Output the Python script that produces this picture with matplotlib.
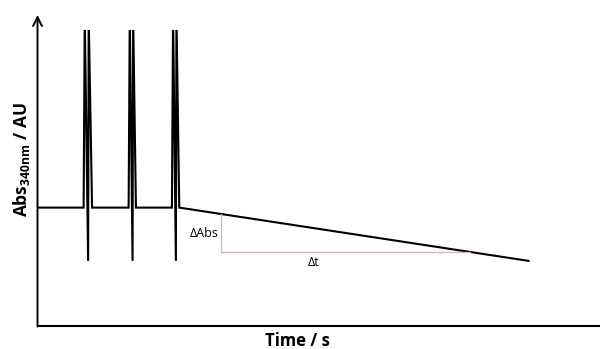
import matplotlib
matplotlib.use("Agg")
import matplotlib.pyplot as plt
import numpy as np

plt.rcParams['font.family'] = ['Open Sans', 'DejaVu Sans']
plt.rcParams['mathtext.fontset'] = 'custom'
plt.rcParams['mathtext.bf'] = 'Open Sans:bold'
plt.rcParams['mathtext.rm'] = 'Open Sans'

# trace: baseline, three injection spikes, then the linear decay
time = [0, 8.2, 8.4, 9.0, 9.1, 9.7,
        16.2, 16.4, 16.9, 17.0, 17.5,
        23.9, 24.1, 24.6, 24.7, 25.2, 87.3]
absorb = [0.40, 0.40, 1.05, 0.22, 1.05, 0.40,
          0.40, 1.05, 0.22, 1.05, 0.40,
          0.40, 1.05, 0.22, 1.05, 0.40, 0.22]

# slope triangle
delta_t_start = 32.6
delta_abs_low = 0.25

x_label = "Time / s"
y_label = r"Abs$_{\mathbf{340nm}}$ / AU"

fig = plt.figure(figsize=(6, 3.49), dpi=100)
ax = fig.add_axes([37.5 / 600, 23 / 349, 562.5 / 600, 296 / 349])
ax.set_xlim(0, 100)
ax.set_ylim(0, 1)

ax.plot(time, absorb, color='black', lw=1.5, solid_joinstyle='miter')

# triangle built from the decay segment
t_a, t_b = time[-2], time[-1]
a_a, a_b = absorb[-2], absorb[-1]
top_abs = np.interp(delta_t_start, [t_a, t_b], [a_a, a_b])
t_end = t_a + (a_a - delta_abs_low) / (a_a - a_b) * (t_b - t_a)
ax.plot([delta_t_start, delta_t_start], [top_abs, delta_abs_low], color='#d9b3b3', lw=0.9)
ax.plot([delta_t_start, t_end], [delta_abs_low, delta_abs_low], color='#d9b3b3', lw=0.9)

ax.text(delta_t_start - 0.4, 0.314, "ΔAbs", ha='right', va='center', fontsize=9)
ax.text(49.0, 0.213, "Δt", ha='center', va='center', fontsize=9)

# axes
for s in ['top', 'right', 'left']:
    ax.spines[s].set_visible(False)
ax.spines['bottom'].set_linewidth(1.5)
ax.set_xticks([])
ax.set_yticks([])
ax.annotate('', xy=(0, 1.0507), xytext=(0, -0.002), xycoords='axes fraction',
            arrowprops=dict(arrowstyle='->', lw=1.4, color='black',
                            mutation_scale=16, shrinkA=0, shrinkB=0),
            annotation_clip=False)

fig.text(21 / 600, 1 - 160 / 349, y_label, rotation=90, ha='center', va='center',
         fontsize=12.5, fontweight='bold')
fig.text(297 / 600, 1 - 341 / 349, x_label, ha='center', va='center',
         fontsize=12, fontweight='bold')

fig.savefig('out.png', dpi=100)
